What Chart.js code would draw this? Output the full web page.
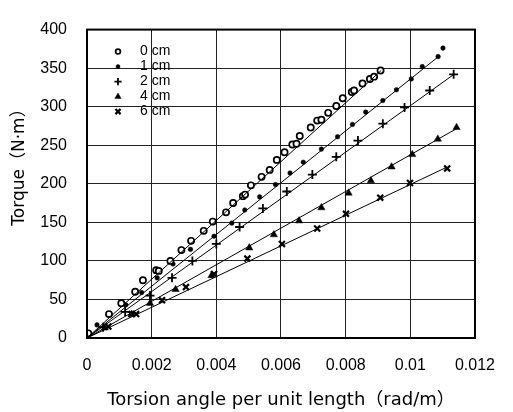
<!DOCTYPE html>
<html>
<head>
<meta charset="utf-8">
<script src="https://cdn.jsdelivr.net/npm/chart.js@4.4.1/dist/chart.umd.min.js"></script>
<style>
  html, body { margin: 0; padding: 0; background: #fff; }
  #wrap { width: 513px; height: 412px; }
</style>
</head>
<body>
<div id="wrap"><canvas id="torqueChart"></canvas></div>
<script>
// measured points, one pair of arrays per specimen
var seriesNames = ['0 cm', '1 cm', '2 cm', '4 cm', '6 cm'];

var x0cm = [0, 0.00004, 0.00068, 0.00106, 0.00149, 0.00173, 0.00214, 0.00222, 0.00258, 0.00292, 0.00322, 0.00361, 0.00389, 0.0043, 0.00452, 0.00482, 0.00489, 0.00507, 0.0054, 0.00565, 0.00587, 0.00611, 0.00635, 0.00648, 0.00658, 0.00692, 0.00712, 0.00725, 0.00746, 0.00771, 0.00791, 0.00819, 0.00826, 0.00852, 0.00875, 0.00888, 0.00908];
var y0cm = [0, 6, 31, 45, 60, 75, 88, 87, 100, 114, 126, 139, 151, 163, 175, 184, 186, 198, 209, 218, 231, 241, 251, 252, 262, 273, 282, 283, 292, 301, 311, 319, 321, 330, 336, 339, 347];

var x1cm = [0, 0.00031, 0.0012, 0.00169, 0.00217, 0.00266, 0.0032, 0.00393, 0.00448, 0.00488, 0.00534, 0.00583, 0.00628, 0.00669, 0.00725, 0.00775, 0.00821, 0.00862, 0.00915, 0.00957, 0.01003, 0.01037, 0.01086, 0.01101];
var y1cm = [0, 17, 43, 59, 78, 96, 115, 132, 149, 166, 183, 199, 214, 228, 245, 261, 277, 293, 308, 322, 336, 352, 365, 376];

var x2cm = [0, 0.0005, 0.00118, 0.00195, 0.00263, 0.00326, 0.004, 0.00472, 0.00544, 0.00618, 0.00697, 0.00771, 0.00838, 0.00915, 0.00982, 0.0106, 0.01134];
var y2cm = [0, 14, 34, 55, 78, 100, 122, 144, 168, 190, 212, 235, 256, 278, 299, 321, 342];

var x4cm = [0, 0.00055, 0.00138, 0.00195, 0.00274, 0.00385, 0.00502, 0.00578, 0.00656, 0.00725, 0.00809, 0.00878, 0.00942, 0.01006, 0.01085, 0.01143];
var y4cm = [0, 13, 31, 45, 63, 81, 117, 134, 152, 169, 188, 204, 222, 238, 258, 273];

var x6cm = [0, 0.00066, 0.00138, 0.00152, 0.00232, 0.00306, 0.00393, 0.00496, 0.00603, 0.00712, 0.00801, 0.00907, 0.00999, 0.01114];
var y6cm = [0, 15, 31, 31, 49, 66, 83, 103, 122, 142, 161, 182, 201, 220];

// straight fit lines drawn from the origin to these end points
var fitEndX = [0.0091, 0.0109, 0.01135, 0.01145, 0.0111];
var fitEndY = [347, 366, 342, 272, 221];

var xTicks = [0, 0.002, 0.004, 0.006, 0.008, 0.01, 0.012];

var allX = [x0cm, x1cm, x2cm, x4cm, x6cm];
var allY = [y0cm, y1cm, y2cm, y4cm, y6cm];

var markers = [
  { pointStyle: 'circle', radius: 3.1, borderWidth: 1.7, fill: '#fff' },
  { pointStyle: 'circle', radius: 2.3, borderWidth: 0.5, fill: '#000' },
  { pointStyle: 'cross', radius: 4.5, borderWidth: 1.8, fill: '#000' },
  { pointStyle: 'triangle', radius: 4.2, borderWidth: 0.5, fill: '#000' },
  { pointStyle: 'crossRot', radius: 4.2, borderWidth: 2.2, fill: '#000' }
];

function toPoints(xs, ys) {
  return xs.map(function (x, i) { return { x: x, y: ys[i] }; });
}

var datasets = [];
seriesNames.forEach(function (name, i) {
  datasets.push({
    label: name + ' fit',
    data: [{ x: 0, y: 0 }, { x: fitEndX[i], y: fitEndY[i] }],
    showLine: true,
    borderColor: '#000',
    borderWidth: 1,
    pointRadius: 0,
    fill: false
  });
});
seriesNames.forEach(function (name, i) {
  var m = markers[i];
  datasets.push({
    label: name,
    data: toPoints(allX[i], allY[i]),
    showLine: false,
    pointStyle: m.pointStyle,
    pointRadius: m.radius,
    pointBorderWidth: m.borderWidth,
    pointBorderColor: '#000',
    pointBackgroundColor: m.fill
  });
});

function drawMarker(ctx, m, x, y, r) {
  ctx.save();
  ctx.strokeStyle = '#000';
  ctx.fillStyle = m.fill;
  ctx.lineWidth = m.borderWidth;
  ctx.beginPath();
  if (m.pointStyle === 'circle') {
    ctx.arc(x, y, r, 0, Math.PI * 2);
    ctx.fill();
    ctx.stroke();
  } else if (m.pointStyle === 'triangle') {
    ctx.moveTo(x, y - r);
    ctx.lineTo(x + r * 0.87, y + r * 0.5);
    ctx.lineTo(x - r * 0.87, y + r * 0.5);
    ctx.closePath();
    ctx.fill();
    ctx.stroke();
  } else if (m.pointStyle === 'cross') {
    ctx.moveTo(x - r, y); ctx.lineTo(x + r, y);
    ctx.moveTo(x, y - r); ctx.lineTo(x, y + r);
    ctx.stroke();
  } else {
    var d = r * 0.75;
    ctx.moveTo(x - d, y - d); ctx.lineTo(x + d, y + d);
    ctx.moveTo(x + d, y - d); ctx.lineTo(x - d, y + d);
    ctx.stroke();
  }
  ctx.restore();
}

var titleFont = '"DejaVu Sans", "Noto Sans CJK JP", sans-serif';
var tickFont = '"Liberation Sans", Arial, sans-serif';

// legend inside the plot (top left), frame round the plot, y title
var extras = {
  id: 'extras',
  afterDraw: function (chart) {
    var ctx = chart.ctx;
    var area = chart.chartArea;
    ctx.save();
    ctx.strokeStyle = '#000';
    ctx.lineWidth = 2;
    ctx.strokeRect(area.left, area.top, area.right - area.left, area.bottom - area.top);

    ctx.font = '14px ' + tickFont;
    ctx.fillStyle = '#000';
    ctx.textBaseline = 'middle';
    ctx.textAlign = 'left';
    var legendR = [2.4, 2, 3.6, 3.6, 3.4];
    seriesNames.forEach(function (name, i) {
      var y = area.top + 22 + i * 15;
      drawMarker(ctx, markers[i], area.left + 31, y, legendR[i]);
      ctx.fillText(name, area.left + 53, y);
    });

    ctx.translate(20, 163);
    ctx.rotate(-Math.PI / 2);
    ctx.textAlign = 'center';
    ctx.font = '17px ' + titleFont;
    ctx.fillText('Torque（N·m）', 0, 0);
    ctx.restore();
  }
};

var ctx = document.getElementById('torqueChart').getContext('2d');
var torqueChart = new Chart(ctx, {
  type: 'scatter',
  data: { datasets: datasets },
  plugins: [extras],
  options: {
    responsive: true,
    maintainAspectRatio: false,
    animation: false,
    layout: { padding: { top: 14, right: 22, left: 0, bottom: 0 } },
    plugins: {
      legend: { display: false },
      tooltip: { enabled: false }
    },
    scales: {
      x: {
        type: 'linear',
        min: 0,
        max: 0.012,
        afterBuildTicks: function (axis) {
          axis.ticks = xTicks.map(function (v) { return { value: v }; });
        },
        afterFit: function (axis) { axis.height = 74; },
        grid: { color: '#222', lineWidth: 1, drawTicks: false },
        border: { color: '#000', width: 2 },
        ticks: {
          color: '#000',
          padding: 18,
          maxRotation: 0,
          font: { family: tickFont, size: 16 },
          callback: function (v) { return String(Math.round(v * 1000) / 1000); }
        },
        title: {
          display: true,
          text: 'Torsion angle per unit length（rad/m）',
          color: '#000',
          padding: { top: 0, bottom: 1 },
          font: { family: titleFont, size: 18 }
        }
      },
      y: {
        min: 0,
        max: 400,
        ticks: {
          stepSize: 50,
          color: '#000',
          padding: 20,
          font: { family: tickFont, size: 16 }
        },
        afterFit: function (axis) { axis.width = 87; },
        grid: { color: '#222', lineWidth: 1, drawTicks: false },
        border: { color: '#000', width: 2 }
      }
    }
  }
});
</script>
</body>
</html>
